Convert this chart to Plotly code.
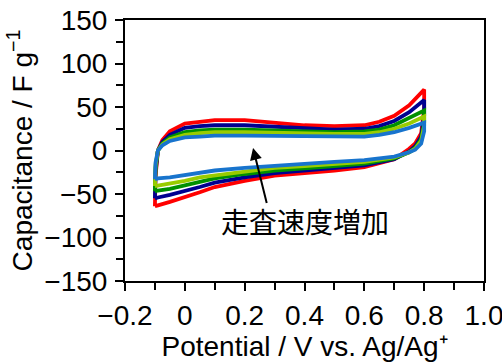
import plotly.graph_objects as go

# Potential grid for the anodic (upper, left->right) and cathodic (lower, right->left) branches
upper_x = [-0.1, -0.098, -0.09, -0.075, -0.05, -0.02, 0.0, 0.05, 0.1, 0.2, 0.3, 0.4, 0.5, 0.6, 0.65, 0.7, 0.75, 0.8]
lower_x = [0.8, 0.8, 0.79, 0.77, 0.75, 0.7, 0.6, 0.5, 0.4, 0.3, 0.2, 0.1, 0.05, 0.0, -0.05, -0.09, -0.1]

# Capacitance (F/g) for each scan rate (slowest -> fastest)
red_upper = [-64, -30, 0, 12, 22, 28, 31, 33, 35, 35, 32, 29, 28, 29, 33, 40, 52, 70]
red_lower = [70, 48, 20, 8, 2, -10, -19, -23, -26, -29, -35, -42, -48, -54, -59, -63, -64]

navy_upper = [-55, -25, 0, 10, 18, 23, 26, 28, 29, 29, 27, 25, 24, 25, 28, 34, 44, 58]
navy_lower = [58, 40, 16, 5, -1, -10, -17, -20, -23, -26, -31, -37, -42, -47, -51, -54, -55]

green_upper = [-47, -20, 0, 8, 15, 19, 21, 23, 24, 24, 23, 22, 21, 22, 24, 29, 37, 46]
green_lower = [46, 32, 13, 3, -2, -9, -15, -18, -20, -23, -27, -32, -36, -40, -44, -46, -47]

yg_upper = [-41, -17, 0, 7, 13, 16, 18, 20, 21, 21, 20, 19, 19, 19, 21, 25, 31, 39]
yg_lower = [39, 28, 11, 2, -2, -8, -13, -16, -18, -20, -24, -28, -31, -35, -38, -40, -41]

blue_upper = [-33, -14, 0, 6, 11, 14, 15, 16, 17, 17, 17, 16, 16, 16, 18, 21, 26, 32]
blue_lower = [32, 22, 8, 1, -2, -7, -11, -13, -15, -17, -20, -23, -26, -29, -31, -32, -33]

series = [
    ("red", "#FF0000", red_upper, red_lower),
    ("navy", "#000090", navy_upper, navy_lower),
    ("green", "#009000", green_upper, green_lower),
    ("yellowgreen", "#99CC00", yg_upper, yg_lower),
    ("blue", "#1874CD", blue_upper, blue_lower),
]

x_tickvals = [-0.2, 0, 0.2, 0.4, 0.6, 0.8, 1.0]
x_ticktext = ["\u22120.2", "0", "0.2", "0.4", "0.6", "0.8", "1.0"]
y_tickvals = [-150, -100, -50, 0, 50, 100, 150]
y_ticktext = ["\u2212150", "\u2212100", "\u221250", "0", "50", "100", "150"]

annotation_text = "走査速度増加"

fig = go.Figure()
for name, color, up, lo in series:
    fig.add_trace(go.Scatter(
        x=upper_x + lower_x,
        y=up + lo,
        mode="lines",
        line=dict(color=color, width=3.8),
        name=name,
        showlegend=False,
        hoverinfo="skip",
    ))

font_family = "Liberation Sans, Arial, sans-serif"
fs = 28

fig.update_layout(
    width=502, height=362,
    margin=dict(l=125, r=18, t=20, b=81),
    plot_bgcolor="white", paper_bgcolor="white",
    font=dict(family=font_family, size=fs, color="black"),
    xaxis=dict(
        range=[-0.2, 1.0], automargin=False,
        tickvals=x_tickvals, ticktext=x_ticktext,
        ticks="outside", ticklen=8, tickwidth=2, tickcolor="black",
        minor=dict(dtick=0.1, tick0=-0.2, ticks="outside", ticklen=7, tickwidth=2, tickcolor="black"),
        showline=True, linecolor="black", linewidth=2, mirror=True,
        showgrid=False, zeroline=False,
        tickfont=dict(size=fs), ticklabelstandoff=0, ticklabeloverflow="allow",
        title=dict(text="Potential / V vs. Ag/Ag\u207a", font=dict(size=fs), standoff=7),
    ),
    yaxis=dict(
        range=[-150, 150], automargin=False,
        tickvals=y_tickvals, ticktext=y_ticktext,
        ticks="outside", ticklen=8, tickwidth=2, tickcolor="black",
        minor=dict(dtick=25, tick0=-150, ticks="outside", ticklen=7, tickwidth=2, tickcolor="black"),
        showline=True, linecolor="black", linewidth=2, mirror=True,
        showgrid=False, zeroline=False,
        tickfont=dict(size=fs), ticklabelstandoff=2, ticklabeloverflow="allow",
        title=dict(text="Capacitance / F g<sup>\u22121</sup>", font=dict(size=fs), standoff=4),
    ),
)

# Arrow
fig.add_annotation(
    x=0.228, y=3, ax=0.275, ay=-62, xref="x", yref="y", axref="x", ayref="y",
    text="", showarrow=True, arrowhead=2, arrowsize=1.2, arrowwidth=2, arrowcolor="black",
)
# Label
fig.add_annotation(
    x=0.402, y=-81, xref="x", yref="y", text=annotation_text, showarrow=False,
    font=dict(family="Noto Sans CJK JP", size=28, color="black"),
)

fig.write_html(
    "out.html",
    config={"displayModeBar": False},
    post_script="document.body.style.margin='0';document.body.style.overflow='hidden';",
)
